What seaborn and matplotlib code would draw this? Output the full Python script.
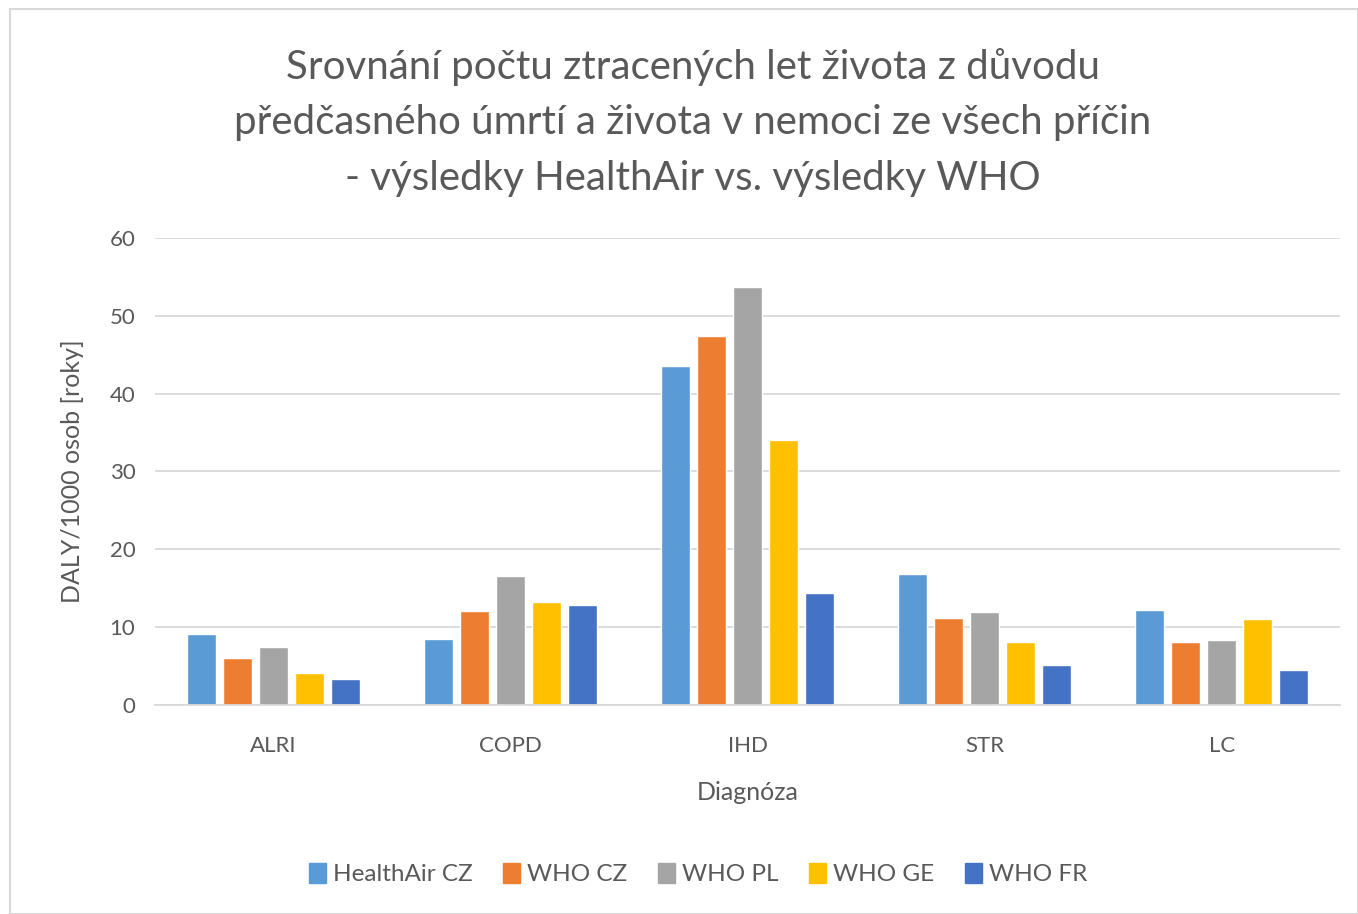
import matplotlib.pyplot as plt
import matplotlib.patches as mpatches
import seaborn as sns
import pandas as pd

# values
diagnoses = ['ALRI', 'COPD', 'IHD', 'STR', 'LC']
series = ['HealthAir CZ', 'WHO CZ', 'WHO PL', 'WHO GE', 'WHO FR']
healthair_cz = [9.1, 8.5, 43.6, 16.8, 12.2]
who_cz = [6.0, 12.1, 47.4, 11.2, 8.1]
who_pl = [7.5, 16.6, 53.7, 11.9, 8.3]
who_ge = [4.1, 13.2, 34.1, 8.1, 11.0]
who_fr = [3.3, 12.8, 14.4, 5.1, 4.5]
colors = ['#5B9BD5', '#ED7D31', '#A5A5A5', '#FFC000', '#4472C4']

rows = []
for name, vals in zip(series, [healthair_cz, who_cz, who_pl, who_ge, who_fr]):
    for d, v in zip(diagnoses, vals):
        rows.append({'Diagnóza': d, 'Série': name, 'Hodnota': v})
df = pd.DataFrame(rows)

sns.set_style('white')
plt.rcParams['font.family'] = ['Lato', 'DejaVu Sans']
text_col = '#595959'

fig = plt.figure(figsize=(13.58, 9.14), dpi=100)
ax = fig.add_axes([0.114, 0.2287, 0.873, 0.5109])

sns.barplot(data=df, x='Diagnóza', y='Hodnota', hue='Série', order=diagnoses,
            hue_order=series, palette=colors, width=0.76, gap=0.2,
            saturation=1, ax=ax, legend=False)

ax.set_xlim(-0.5, 4.5)
ax.set_ylim(0, 60)
ax.set_yticks(range(0, 61, 10))
ax.yaxis.grid(True, color='#D9D9D9', linewidth=1.3)
ax.set_axisbelow(True)
for s in ['top', 'right', 'left']:
    ax.spines[s].set_visible(False)
ax.spines['bottom'].set_color('#D9D9D9')
ax.spines['bottom'].set_linewidth(1.3)
ax.tick_params(axis='both', length=0, labelsize=16, colors=text_col)
ax.tick_params(axis='y', pad=14)
ax.tick_params(axis='x', pad=22)

ax.set_xlabel('Diagnóza', fontsize=18, color=text_col, labelpad=18)
ax.set_ylabel('DALY/1000 osob [roky]', fontsize=18, color=text_col, labelpad=18)

fig.suptitle('Srovnání počtu ztracených let života z důvodu\n'
             'předčasného úmrtí a života v nemoci ze všech příčin\n'
             '- výsledky HealthAir vs. výsledky WHO',
             x=0.51, y=0.948, fontsize=29, color=text_col, linespacing=1.63)

handles = [mpatches.Patch(color=c, label=n) for c, n in zip(colors, series)]
fig.legend(handles=handles, loc='center', bbox_to_anchor=(0.514, 0.044), ncol=5,
           frameon=False, fontsize=17.5, labelcolor=text_col, handlelength=0.7,
           handleheight=0.9, handletextpad=0.3, columnspacing=1.25)

fig.patches.append(mpatches.Rectangle((0.007, 0.0), 0.993, 0.99, transform=fig.transFigure,
                                      fill=False, edgecolor='#D9D9D9', linewidth=1.5))

plt.savefig('out.png', dpi=100)
